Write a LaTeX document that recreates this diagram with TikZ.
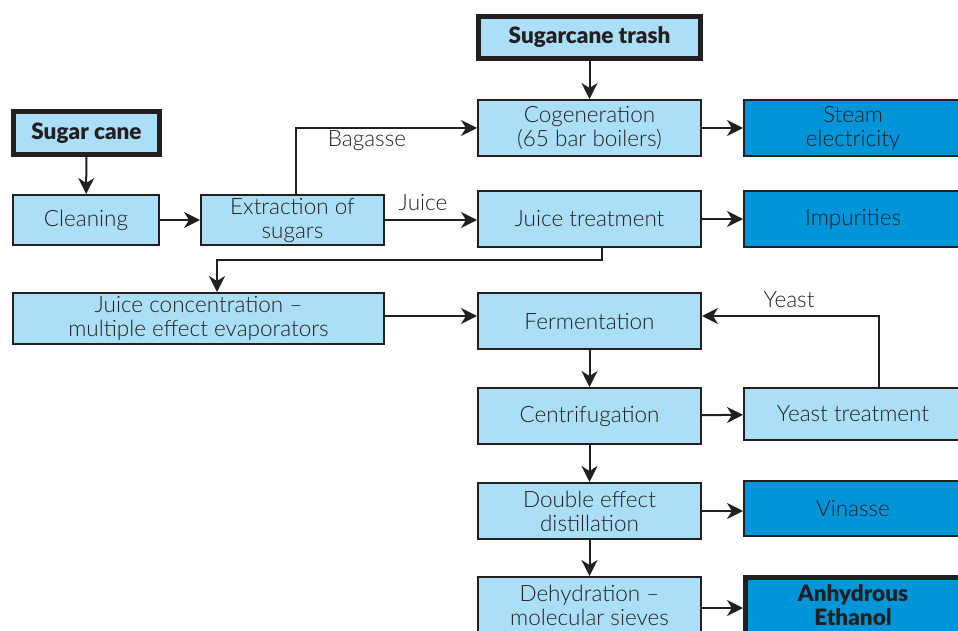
\documentclass[tikz,border=0pt]{standalone}
\usepackage{fontspec}
\setmainfont{Lato}[UprightFont=* Light, BoldFont=* Black]
\usetikzlibrary{arrows.meta,positioning,calc}
\definecolor{lightbox}{RGB}{170,223,247}
\definecolor{darkbox}{RGB}{0,149,216}
\definecolor{txt}{RGB}{35,31,32}
\begin{document}
\begin{tikzpicture}[x=1pt,y=-1pt,
  box/.style={draw=txt,line width=2pt,fill=lightbox,text=txt,align=center,inner sep=0pt,
    font=\fontsize{22.5}{24}\selectfont},
  outbox/.style={box,fill=darkbox},
  twoline/.style={execute at begin node={\rule{0pt}{22pt}}},
  keybox/.style={line width=5pt,font=\fontsize{22.5}{24}\selectfont\bfseries},
  arr/.style={draw=txt,line width=2pt,-{Stealth[length=16pt,width=16pt,inset=5pt]}},
  lbl/.style={text=txt,font=\fontsize{22.5}{24}\selectfont,inner sep=0pt}]
\useasboundingbox (0,0) rectangle (958,631);
\clip (0,0) rectangle (958,631);
% nodes
\node[box,keybox,minimum width=146pt,minimum height=43pt] (sugar) at (86.5,133) {Sugar cane};
\node[box,keybox,minimum width=222pt,minimum height=42pt] (trash) at (589.5,37.5) {Sugarcane trash};
\node[box,minimum width=146pt,minimum height=50pt] (clean) at (86,220) {Cleaning};
\node[box,twoline,minimum width=183pt,minimum height=50pt] (extr) at (292.5,220) {Extraction of\\sugars};
\node[box,twoline,minimum width=223pt,minimum height=56pt] (cogen) at (589.5,128) {Cogeneration\\(65 bar boilers)};
\node[outbox,twoline,minimum width=218pt,minimum height=56pt] (steam) at (853,128) {Steam\\electricity};
\node[box,minimum width=223pt,minimum height=56pt] (jtreat) at (589.5,219) {Juice treatment};
\node[outbox,minimum width=218pt,minimum height=56pt] (impur) at (853,219) {Impurities};
\node[box,twoline,minimum width=371pt,minimum height=51pt] (conc) at (198.5,318.5) {Juice concentration –\\multiple effect evaporators};
\node[box,minimum width=223pt,minimum height=56pt] (ferm) at (589.5,321) {Fermentation};
\node[box,minimum width=223pt,minimum height=56pt] (centri) at (589.5,416) {Centrifugation};
\node[box,minimum width=218pt,minimum height=52pt] (yeastt) at (853,414) {Yeast treatment};
\node[box,twoline,minimum width=223pt,minimum height=56pt] (dist) at (589.5,511) {Double effect\\distillation};
\node[outbox,minimum width=218pt,minimum height=55pt] (vin) at (853,508.5) {Vinasse};
\node[box,twoline,minimum width=223pt,minimum height=56pt] (dehyd) at (589.5,605) {Dehydration –\\molecular sieves};
\node[outbox,keybox,twoline,minimum width=215pt,minimum height=56pt] (ethanol) at (853,605) {Anhydrous\\Ethanol};
% labels
\node[lbl] (lbag) at (367,141) {Bagasse};
\node[lbl] (ljuice) at (423,203) {Juice};
\node[lbl] (lyeast) at (789,300) {Yeast};
% coordinates
\coordinate (jdown) at (602,260);
\coordinate (cdown) at (217,260);
% connectors
\draw[arr] (sugar) -- (clean);
\draw[arr] (clean) -- (extr);
\draw[arr] ([xshift=3pt]extr.north) |- (cogen.west);
\draw[arr] (extr.east) -- (extr.east -| jtreat.west);
\draw[arr] (trash) -- (cogen);
\draw[arr] (cogen) -- (steam);
\draw[arr] (jtreat) -- (impur);
\draw[arr] ([xshift=12.5pt]jtreat.south) -- (jdown) -- (cdown) -- ([xshift=18.5pt]conc.north);
\draw[arr] ([yshift=2.5pt]conc.east) -- ([yshift=2.5pt]conc.east -| ferm.west);
\draw[arr] (ferm) -- (centri);
\draw[arr] (centri) -- (yeastt);
\draw[arr] ([xshift=26pt]yeastt.north) |- ([yshift=5pt]ferm.east);
\draw[arr] (centri) -- (dist);
\draw[arr] (dist.east) -- (dist.east -| vin.west);
\draw[arr] (dist) -- (dehyd);
\draw[arr] ([yshift=-3pt]dehyd.east) -- ([yshift=-3pt]dehyd.east -| ethanol.west);
\end{tikzpicture}
\end{document}
